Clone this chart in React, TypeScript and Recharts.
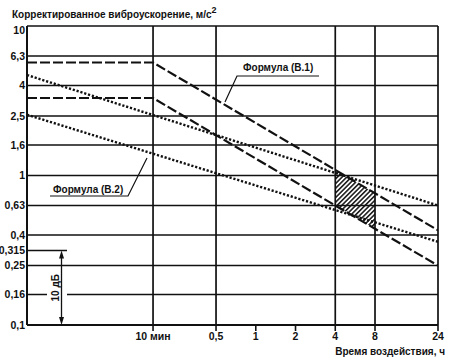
import React from 'react';
import { ComposedChart, Line, Area, XAxis, YAxis, ReferenceLine } from 'recharts';

const W = 462;
const H = 364;
const LEFT = 27;
const TOP = 26;
const RIGHT = 438;
const BOTTOM = 325;

const FONT = '"Liberation Sans", Arial, sans-serif';
const INK = '#111';

// начало шкалы времени, ч (около 1 мин)
const T_MIN = 0.0185;

const times = [T_MIN, 1 / 6, 4, 8, 24];
// формула (В.1), пунктир
const b1Upper = [5.7, 5.7, 1.09, 0.76, 0.43];
const b1Lower = [3.3, 3.3, 0.63, 0.44, 0.25];
// формула (В.2), точки
const b2Upper = [4.7, null, null, null, 0.63];
const b2Lower = [2.55, null, null, null, 0.36];
// заштрихованная зона 4–8 ч
const zoneLow = [null, null, 0.63, 0.44, null];
const zoneHigh = [null, null, 1.09, 0.76, null];

const xTicks = [1 / 6, 0.5, 1, 2, 4, 8, 24];
const xTickLabels = ['10 мин', '0,5', '1', '2', '4', '8', '24'];
const xGrid = [1 / 6, 0.5, 4, 8, 24];

const yTicks = [0.1, 0.16, 0.25, 0.315, 0.4, 0.63, 1, 1.6, 2.5, 4, 6.3, 10];
const yTickLabels = ['0,1', '0,16', '0,25', '0,315', '0,4', '0,63', '1', '1,6', '2,5', '4', '6,3', '10'];
const yGrid = [0.16, 0.25, 0.4, 0.63, 1, 1.6, 2.5, 4, 6.3, 10];

const data = times.map((t, i) => ({
  t,
  b1Upper: b1Upper[i],
  b1Lower: b1Lower[i],
  b2Upper: b2Upper[i],
  b2Lower: b2Lower[i],
  zone: zoneLow[i] != null && zoneHigh[i] != null ? [zoneLow[i], zoneHigh[i]] : null,
}));

const labelFor = (vals: number[], labels: string[], v: number) => {
  const i = vals.findIndex((x) => Math.abs(x - v) / x < 1e-6);
  return i >= 0 ? labels[i] : '';
};

// пиксели по тем же логарифмическим шкалам (для подписей)
const yPx = (v: number) => TOP + ((1 - Math.log10(v)) / 2) * (BOTTOM - TOP);

const YTick = (props: any) => {
  const { x, y, payload } = props;
  const v = payload.value;
  return (
    <text
      x={x}
      y={y}
      dy={v === 10 ? 7.5 : 3.8}
      textAnchor="end"
      fontSize={10.5}
      fontWeight={700}
      fontFamily={FONT}
      fill={INK}
    >
      {labelFor(yTicks, yTickLabels, v)}
    </text>
  );
};

const textStyle = { fontFamily: FONT, fontSize: 10, fontWeight: 700, fill: INK } as const;

export default function App() {
  const y315 = yPx(0.315);
  const y016 = yPx(0.16);
  return (
    <div style={{ position: 'absolute', left: 0, top: 0, width: W, height: H, background: '#fff' }}>
      <ComposedChart
        width={W}
        height={H}
        data={data}
        margin={{ top: TOP, right: W - RIGHT, bottom: 0, left: 0 }}
      >
        <defs>
          <pattern id="hatch" width="3.3" height="3.3" patternUnits="userSpaceOnUse" patternTransform="rotate(45)">
            <line x1="0.8" y1="0" x2="0.8" y2="3.3" stroke={INK} strokeWidth={1.5} />
          </pattern>
        </defs>
        <XAxis
          dataKey="t"
          type="number"
          scale="log"
          domain={[T_MIN, 24]}
          ticks={xTicks}
          interval={0}
          allowDataOverflow
          height={H - BOTTOM}
          tickSize={6}
          tickMargin={2}
          stroke={INK}
          axisLine={{ stroke: INK, strokeWidth: 2 }}
          tickLine={{ stroke: INK, strokeWidth: 1.6 }}
          tick={{ fontSize: 10.5, fontWeight: 700, fill: INK, fontFamily: FONT }}
          tickFormatter={(v: number) => labelFor(xTicks, xTickLabels, v)}
        />
        <YAxis
          type="number"
          scale="log"
          domain={[0.1, 10]}
          ticks={yTicks}
          interval={0}
          allowDataOverflow
          width={LEFT}
          tickSize={0}
          tickMargin={2}
          axisLine={{ stroke: INK, strokeWidth: 2 }}
          tick={<YTick />}
        />
        {yGrid.map((v) => (
          <ReferenceLine key={'y' + v} y={v} stroke={INK} strokeWidth={1.7} />
        ))}
        {xGrid.map((v) => (
          <ReferenceLine key={'x' + v} x={v} stroke={INK} strokeWidth={1.7} />
        ))}
        <Area
          dataKey="zone"
          type="linear"
          stroke="none"
          fill="url(#hatch)"
          fillOpacity={1}
          isAnimationActive={false}
          dot={false}
          activeDot={false}
        />
        <Line dataKey="b1Upper" type="linear" stroke={INK} strokeWidth={2.2} strokeDasharray="10 3" dot={false} activeDot={false} connectNulls isAnimationActive={false} />
        <Line dataKey="b1Lower" type="linear" stroke={INK} strokeWidth={2.2} strokeDasharray="10 3" dot={false} activeDot={false} connectNulls isAnimationActive={false} />
        <Line dataKey="b2Upper" type="linear" stroke={INK} strokeWidth={2.4} strokeDasharray="2.2 1.8" dot={false} activeDot={false} connectNulls isAnimationActive={false} />
        <Line dataKey="b2Lower" type="linear" stroke={INK} strokeWidth={2.4} strokeDasharray="2.2 1.8" dot={false} activeDot={false} connectNulls isAnimationActive={false} />
      </ComposedChart>

      <svg width={W} height={H} style={{ position: 'absolute', left: 0, top: 0, pointerEvents: 'none' }}>
        <text x={12} y={18} {...textStyle}>
          Корректированное виброускорение, м/с
          <tspan dy={-5} fontSize={9}>2</tspan>
        </text>
        <text x={445} y={355} textAnchor="end" {...textStyle}>
          Время воздействия, ч
        </text>

        <text x={243} y={71} {...textStyle}>Формула (В.1)</text>
        <polyline points="319,76 237,76 225,102" fill="none" stroke={INK} strokeWidth={1.2} />

        <text x={53} y={193} {...textStyle}>Формула (В.2)</text>
        <polyline points="50,196 128,196 147,158" fill="none" stroke={INK} strokeWidth={1.2} />

        <line x1={LEFT} x2={67} y1={y315} y2={y315} stroke={INK} strokeWidth={1.7} />
        <rect x={47} y={y016 - 2} width={20} height={4} fill="#fff" />
        <line x1={61.5} x2={61.5} y1={y315 + 6} y2={BOTTOM - 6} stroke={INK} strokeWidth={1.3} />
        <polygon points={`61.5,${y315} 59,${y315 + 8} 64,${y315 + 8}`} fill={INK} />
        <polygon points={`61.5,${BOTTOM} 59,${BOTTOM - 8} 64,${BOTTOM - 8}`} fill={INK} />
        <text
          transform={`translate(59, ${(y315 + BOTTOM) / 2}) rotate(-90)`}
          textAnchor="middle"
          {...textStyle}
        >
          10 дБ
        </text>
      </svg>
    </div>
  );
}
